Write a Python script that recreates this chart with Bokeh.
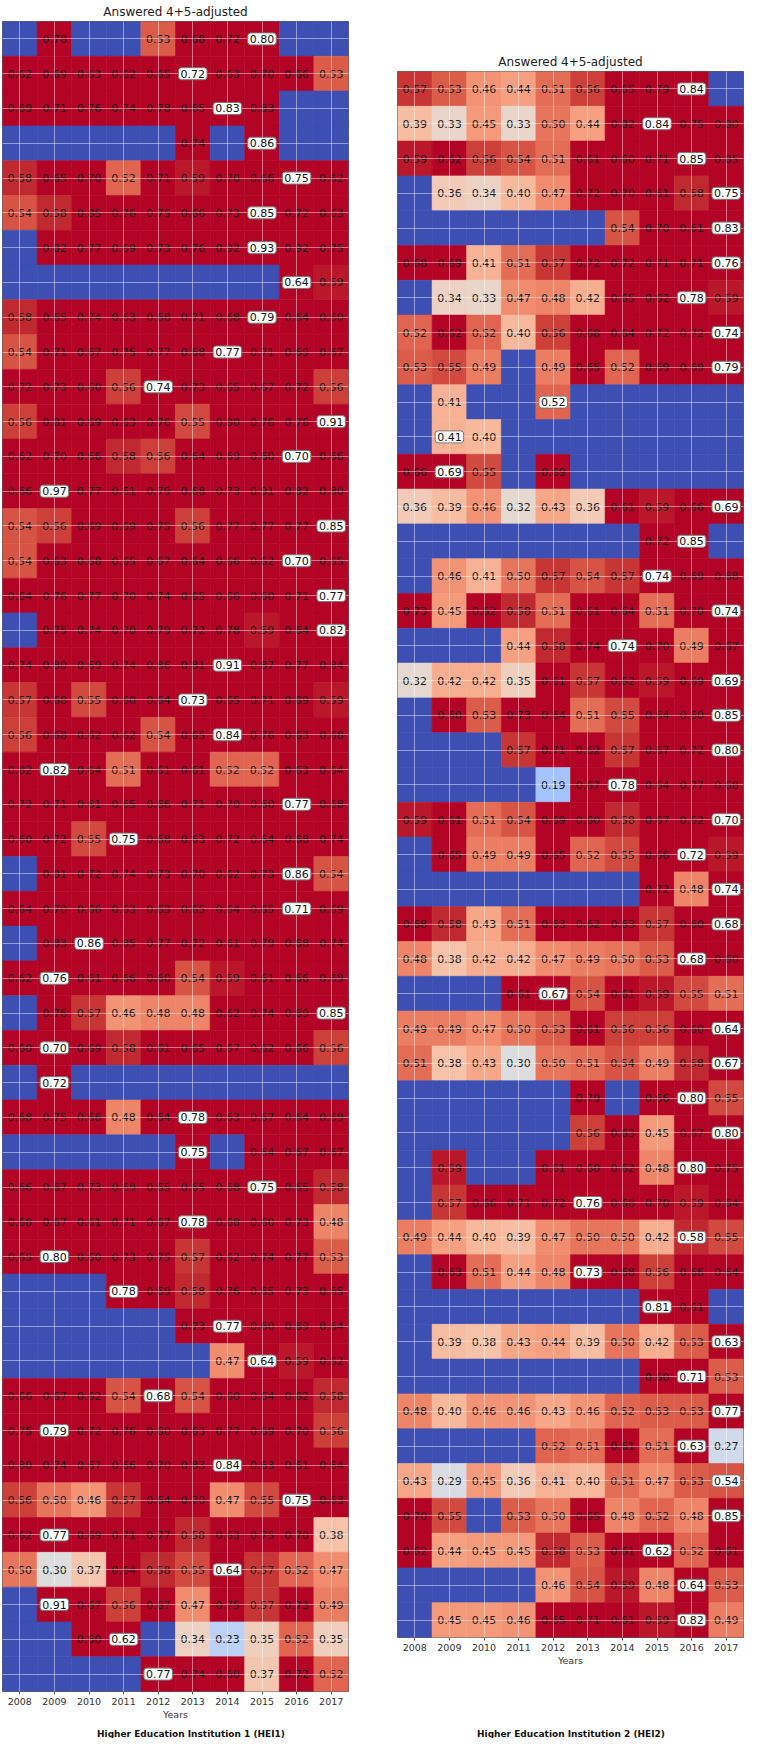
import numpy as np
from bokeh.plotting import figure
from bokeh.models import ColumnDataSource, Range1d, FixedTicker, Label, Spacer
from bokeh.layouts import row, column
from bokeh.core.properties import value
from bokeh.embed import file_html
from bokeh.resources import INLINE

YEARS = [str(y) for y in range(2008, 2018)]
N = None

# HEI1: one list per row (top to bottom), one value per year 2008..2017; None = no data
HEI1 = [
    [N, .78, N, N, .53, .68, .72, .80, N, N],
    [.62, .69, .63, .62, .65, .72, .63, .70, .66, .53],
    [.69, .71, .76, .74, .78, .65, .83, .83, N, N],
    [N, N, N, N, N, .74, N, .86, N, N],
    [.58, .65, .70, .52, .71, .59, .70, .66, .75, .62],
    [.54, .58, .85, .76, .75, .66, .73, .85, .72, .63],
    [N, .82, .77, .69, .73, .76, .92, .93, .92, .75],
    [N, N, N, N, N, N, N, N, .64, .59],
    [.58, .65, .74, .63, .68, .71, .68, .79, .64, .60],
    [.54, .71, .67, .75, .77, .68, .77, .71, .69, .67],
    [.72, .73, .60, .56, .74, .73, .65, .67, .72, .56],
    [.56, .81, .69, .63, .76, .55, .80, .76, .76, .91],
    [.62, .70, .66, .58, .56, .64, .69, .60, .70, .66],
    [.66, .97, .77, .61, .79, .68, .73, .91, .82, .80],
    [.54, .56, .69, .69, .75, .56, .77, .77, .77, .85],
    [.54, .63, .68, .65, .67, .64, .66, .62, .70, .65],
    [.64, .76, .77, .70, .74, .65, .66, .60, .71, .77],
    [N, .75, .74, .70, .79, .72, .78, .59, .64, .82],
    [.74, .80, .69, .74, .86, .81, .91, .87, .77, .84],
    [.57, .68, .55, .60, .64, .73, .65, .71, .69, .59],
    [.56, .68, .62, .62, .54, .65, .84, .76, .63, .68],
    [.82, .82, .64, .51, .61, .61, .52, .52, .63, .64],
    [.72, .71, .61, .65, .66, .71, .70, .60, .77, .68],
    [.60, .72, .55, .75, .68, .63, .72, .64, .68, .74],
    [N, .81, .72, .74, .73, .70, .62, .73, .86, .54],
    [.64, .70, .66, .63, .63, .65, .64, .65, .71, .69],
    [N, .83, .86, .85, .77, .72, .61, .79, .68, .74],
    [.62, .76, .61, .66, .60, .54, .59, .61, .66, .69],
    [N, .76, .57, .46, .48, .48, .62, .74, .69, .85],
    [.60, .70, .69, .58, .61, .65, .67, .62, .66, .56],
    [N, .72, N, N, N, N, N, N, N, N],
    [.68, .75, .66, .48, .64, .78, .63, .67, .64, .69],
    [N, N, N, N, N, .75, N, .64, .67, .67],
    [.66, .67, .73, .69, .65, .65, .68, .75, .65, .58],
    [.68, .67, .61, .71, .67, .78, .68, .60, .73, .48],
    [.65, .80, .60, .73, .75, .57, .62, .74, .77, .53],
    [N, N, N, .78, .69, .58, .76, .65, .73, .65],
    [N, N, N, N, N, .73, .77, .60, .69, .64],
    [N, N, N, N, N, N, .47, .64, .59, .62],
    [.66, .67, .62, .54, .68, .54, .60, .64, .62, .58],
    [.75, .79, .72, .76, .60, .63, .77, .69, .70, .56],
    [.80, .74, .67, .66, .70, .83, .84, .63, .61, .64],
    [.56, .50, .46, .57, .64, .70, .47, .55, .75, .63],
    [.62, .77, .69, .71, .77, .58, .63, .75, .70, .38],
    [.50, .30, .37, .64, .58, .55, .64, .57, .52, .47],
    [N, .91, .67, .56, .67, .47, .75, .57, .73, .49],
    [N, N, .60, .62, N, .34, .23, .35, .52, .35],
    [N, N, N, N, .77, .74, .60, .37, .72, .52],
]
# index of the highlighted (boxed) year in each HEI1 row
HEI1_BOX = [7, 5, 6, 7, 8, 7, 7, 8, 7, 6, 4, 9, 8, 1, 9, 8, 9, 9, 6, 5, 6, 1, 8, 3,
            8, 8, 2, 1, 9, 1, 1, 5, 5, 7, 5, 1, 3, 6, 7, 4, 1, 6, 8, 1, 6, 1, 3, 4]

HEI2 = [
    [.57, .53, .46, .44, .51, .56, .65, .79, .84, N],
    [.39, .33, .45, .33, .50, .44, .82, .84, .75, .80],
    [.59, .62, .56, .54, .51, .61, .60, .71, .85, .85],
    [N, .36, .34, .40, .47, .72, .70, .61, .58, .75],
    [N, N, N, N, N, N, .54, .70, .61, .83],
    [.68, .69, .41, .51, .57, .72, .72, .71, .71, .76],
    [N, .34, .33, .47, .48, .42, .65, .62, .78, .59],
    [.52, .62, .52, .40, .56, .68, .64, .72, .72, .74],
    [.53, .55, .49, N, .49, .65, .52, .69, .69, .79],
    [N, .41, N, N, .52, N, N, N, N, N],
    [N, .41, .40, N, N, N, N, N, N, N],
    [.66, .69, .55, N, .69, N, N, N, N, N],
    [.36, .39, .46, .32, .43, .36, .61, .59, .66, .69],
    [N, N, N, N, N, N, N, .72, .85, N],
    [N, .46, .41, .50, .57, .54, .57, .74, .69, .68],
    [.73, .45, .62, .58, .51, .61, .64, .51, .70, .74],
    [N, N, N, .44, .58, .74, .74, .70, .49, .67],
    [.32, .42, .42, .35, .61, .57, .62, .59, .69, .69],
    [N, .60, .53, .73, .64, .51, .55, .64, .60, .85],
    [N, N, N, .57, .71, .62, .57, .67, .72, .80],
    [N, N, N, N, .19, .67, .78, .64, .77, .68],
    [.59, .61, .51, .54, .69, .60, .58, .67, .62, .70],
    [N, .65, .49, .49, .65, .52, .55, .66, .72, .59],
    [N, N, N, N, N, N, N, .72, .48, .74],
    [.68, .58, .43, .51, .63, .62, .63, .57, .60, .68],
    [.48, .38, .42, .42, .47, .49, .50, .53, .68, .60],
    [N, N, N, .61, .67, .54, .61, .59, .55, .51],
    [.49, .49, .47, .50, .53, .61, .56, .56, .60, .64],
    [.51, .38, .43, .30, .50, .51, .54, .49, .58, .67],
    [N, N, N, N, N, .79, N, .66, .80, .55],
    [N, N, N, N, N, .56, .63, .45, .67, .80],
    [N, .59, N, N, .61, .60, .62, .48, .80, .75],
    [N, .57, .66, .71, .72, .76, .68, .70, .59, .64],
    [.49, .44, .40, .39, .47, .50, .50, .42, .58, .55],
    [N, .63, .51, .44, .48, .73, .68, .56, .66, .64],
    [N, N, N, N, N, N, N, .81, .61, N],
    [N, .39, .38, .43, .44, .39, .50, .42, .53, .63],
    [N, N, N, N, N, N, N, .60, .71, .53],
    [.48, .40, .46, .46, .43, .46, .52, .53, .53, .77],
    [N, N, N, N, .52, .51, .61, .51, .63, .27],
    [.43, .29, .45, .36, .41, .40, .51, .47, .53, .54],
    [.70, .55, N, .53, .50, .65, .48, .52, .48, .85],
    [.62, .44, .45, .45, .58, .53, .61, .62, .52, .61],
    [N, N, N, N, .46, .54, .59, .48, .64, .53],
    [N, .45, .45, .46, .65, .71, .61, .59, .82, .49],
]
HEI2_BOX = [8, 7, 8, 9, 9, 9, 8, 9, 9, 4, 1, 1, 9, 8, 7, 9, 6, 9, 9, 9, 6, 9, 8,
            9, 9, 8, 4, 9, 9, 8, 9, 8, 5, 8, 5, 7, 9, 8, 9, 8, 9, 9, 7, 8, 8]

TITLE = "Answered 4+5-adjusted"
CAPTION1 = "Higher Education Institution 1 (HEI1)"
CAPTION2 = "Higher Education Institution 2 (HEI2)"

# coolwarm colour table (style)
COOLWARM = [
    (59, 76, 192), (68, 90, 204), (77, 104, 215), (87, 117, 225), (98, 130, 234),
    (108, 142, 241), (119, 154, 247), (130, 165, 251), (141, 176, 254), (152, 185, 255),
    (163, 194, 255), (174, 201, 253), (184, 208, 249), (194, 213, 244), (204, 217, 238),
    (213, 219, 230), (221, 221, 221), (229, 216, 209), (236, 211, 197), (241, 204, 185),
    (245, 196, 173), (247, 187, 160), (247, 177, 148), (247, 166, 135), (244, 154, 123),
    (241, 141, 111), (236, 127, 99), (229, 112, 88), (222, 96, 77), (213, 80, 66),
    (203, 62, 56), (192, 40, 47), (180, 4, 38)]
VMIN, VMAX = 0.0, 0.6
MISSING = "#3d4fb2"
FONT = "DejaVu Sans"
CELL = 34.8


def cmap(v):
    if v is None:
        return MISSING
    t = min(max((v - VMIN) / (VMAX - VMIN), 0.0), 1.0)
    pos = t * (len(COOLWARM) - 1)
    i = int(np.floor(pos))
    if i >= len(COOLWARM) - 1:
        c = COOLWARM[-1]
    else:
        f = pos - i
        a, b = np.array(COOLWARM[i]), np.array(COOLWARM[i + 1])
        c = (1 - f) * a + f * b
    return "#%02x%02x%02x" % tuple(int(round(k)) for k in c)


def make(data, box, left, right):
    n = len(data)
    cx, cy, cc = [], [], []
    tx, ty, tt = [], [], []
    bx, by, bt = [], [], []
    for i, rowvals in enumerate(data):
        for j, v in enumerate(rowvals):
            cx.append(YEARS[j]); cy.append(i); cc.append(cmap(v))
            if v is None:
                continue
            if j == box[i]:
                bx.append(YEARS[j]); by.append(i); bt.append("%.2f" % v)
            else:
                tx.append(YEARS[j]); ty.append(i); tt.append("%.2f" % v)

    p = figure(x_range=YEARS, y_range=Range1d(n - 0.5, -0.5),
               frame_width=346, frame_height=int(round(n * CELL)),
               min_border_top=15, min_border_bottom=0,
               min_border_left=left, min_border_right=right,
               output_backend="svg", toolbar_location=None,
               title=TITLE)
    p.rect(x="x", y="y", width=1, height=1, fill_color="c", line_color="c", line_width=0.6,
           source=ColumnDataSource(dict(x=cx, y=cy, c=cc)))
    p.text(x="x", y="y", text="t", source=ColumnDataSource(dict(x=tx, y=ty, t=tt)),
           text_align="center", text_baseline="middle", text_font=value(FONT),
           text_font_size="11px", text_color="#1a1a1a")
    rb = p.text(x="x", y="y", text="t", source=ColumnDataSource(dict(x=bx, y=by, t=bt)),
                text_align="center", text_baseline="middle", text_font=value(FONT),
                text_font_size="11px", text_color="#111111",
                background_fill_color="white", border_line_color="#7a7a7a",
                border_line_width=1, padding=2, border_radius=3)
    rb.level = "annotation"

    p.title.align = "center"
    p.title.text_font = FONT
    p.title.text_font_size = "12px"
    p.title.text_font_style = "normal"
    p.title.text_color = "#222222"
    p.title.standoff = 5

    p.yaxis.visible = False
    p.xaxis.axis_label = "Years"
    p.xaxis.axis_label_text_font = FONT
    p.xaxis.axis_label_text_font_size = "9.5px"
    p.xaxis.axis_label_text_font_style = "normal"
    p.xaxis.axis_label_text_color = "#333333"
    p.xaxis.axis_label_standoff = 1
    p.xaxis.major_label_text_font = FONT
    p.xaxis.major_label_text_font_size = "9.5px"
    p.xaxis.major_label_text_color = "#333333"
    p.xaxis.major_label_standoff = 3
    p.xaxis.major_tick_out = 3
    p.xaxis.major_tick_in = 0
    p.xaxis.axis_line_color = None
    p.xaxis.major_tick_line_color = "#555555"

    p.ygrid.ticker = FixedTicker(ticks=list(range(n)))
    p.grid.grid_line_color = "white"
    p.grid.grid_line_alpha = 0.45
    p.grid.grid_line_width = 1
    p.grid.level = "guide"
    p.outline_line_color = "#3a3a3a"
    p.outline_line_width = 0.8
    return p


def caption(text, width, dx):
    c = figure(width=width, height=16, x_range=Range1d(0, width), y_range=Range1d(0, 16),
               min_border=0, output_backend="svg", toolbar_location=None)
    c.axis.visible = False
    c.grid.visible = False
    c.outline_line_color = None
    c.add_layout(Label(x=width / 2 + dx, y=5, text=text, text_align="center",
                       text_baseline="middle", text_font=FONT, text_font_size="9px",
                       text_font_style="bold", text_color="#111111"))
    return c


p1 = make(HEI1, HEI1_BOX, left=2, right=25)
p2 = make(HEI2, HEI2_BOX, left=24, right=1)

top = row(p1, column(Spacer(width=371, height=50), p2))
bottom = row(caption(CAPTION1, 373, 4), caption(CAPTION2, 371, 12))
layout = column(top, bottom)
open("out.html", "w").write(file_html(layout, INLINE))
